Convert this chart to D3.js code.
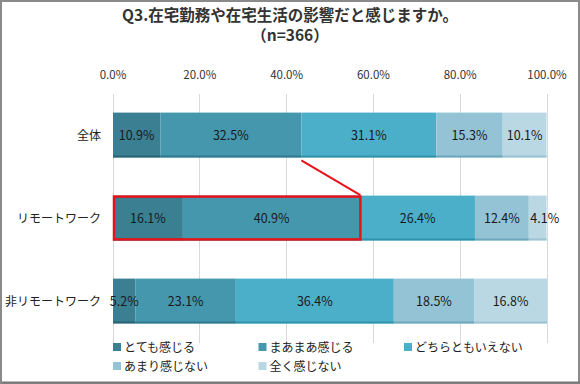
<!DOCTYPE html>
<html lang="ja">
<head>
<meta charset="UTF-8">
<title>Q3 在宅勤務</title>
<script src="https://cdnjs.cloudflare.com/ajax/libs/d3/7.8.5/d3.min.js"></script>
<style>
  body { margin: 0; background: #fff; }
  svg { display: block; font-family: "Noto Sans CJK JP", "Noto Sans", sans-serif; }
  .tick-label { font-size: 11.5px; fill: #333; }
  .cat-label { font-size: 12px; fill: #222; }
  .val-label { font-size: 12.5px; fill: #1a1a1a; }
  .legend-text { font-size: 12px; fill: #222; }
  .title { font-size: 15.5px; font-weight: bold; fill: #333; }
</style>
</head>
<body>
<div id="chart"></div>
<script>
// data
const categories = ["全体", "リモートワーク", "非リモートワーク"];
const seriesNames = ["とても感じる", "まあまあ感じる", "どちらともいえない", "あまり感じない", "全く感じない"];
const overall = [10.9, 32.5, 31.1, 15.3, 10.1];
const remote = [16.1, 40.9, 26.4, 12.4, 4.1];
const nonRemote = [5.2, 23.1, 36.4, 18.5, 16.8];
const ticks = [0, 20, 40, 60, 80, 100];
const colors = ["#3b7f92", "#4597ad", "#4cafc9", "#93c3d5", "#bad8e4"];
const edgeColors = ["#2b6474", "#2f7a8f", "#2f93ae", "#6ea8bd", "#9cc3d3"];

const rows = [overall, remote, nonRemote];

const W = 580, H = 384;
const svg = d3.select("#chart").append("svg")
  .attr("width", W).attr("height", H);

// frame
svg.append("rect")
  .attr("x", 1).attr("y", 1).attr("width", W - 2).attr("height", H - 2)
  .attr("fill", "#fff").attr("stroke", "#8a8a8a").attr("stroke-width", 2);
svg.append("line").attr("x1", 2).attr("x2", W).attr("y1", H - 1.5).attr("y2", H - 1.5)
  .attr("stroke", "#777").attr("stroke-width", 2);

// title
svg.append("text").attr("class", "title")
  .attr("x", 290).attr("y", 21).attr("text-anchor", "middle")
  .text("Q3.在宅勤務や在宅生活の影響だと感じますか。");
svg.append("text").attr("class", "title")
  .attr("x", 290).attr("y", 41).attr("text-anchor", "middle")
  .text("（n=366）");

const x = d3.scaleLinear().domain([0, 100]).range([113, 547]);
const y = d3.scaleBand().domain(categories).range([93.5, 342.5]).paddingInner(0.46).paddingOuter(0.23);

// gridlines
svg.append("g").selectAll("line").data(ticks).join("line")
  .attr("x1", d => x(d)).attr("x2", d => x(d))
  .attr("y1", 93.5).attr("y2", 342.5)
  .attr("stroke", "#d9d9d9").attr("stroke-width", 1)
  .attr("shape-rendering", "crispEdges");

// top axis labels
svg.append("g").selectAll("text").data(ticks).join("text")
  .attr("class", "tick-label")
  .attr("x", d => x(d)).attr("y", 79).attr("text-anchor", "middle")
  .text(d => d.toFixed(1) + "%");

// bars
rows.forEach((vals, ri) => {
  const cat = categories[ri];
  let acc = 0;
  const segs = vals.map((v, i) => {
    const s = { v, i, x0: acc, x1: acc + v };
    acc += v;
    return s;
  });
  const g = svg.append("g");
  g.selectAll("rect").data(segs).join("rect")
    .attr("x", d => x(d.x0)).attr("width", d => x(d.x1) - x(d.x0))
    .attr("y", y(cat)).attr("height", y.bandwidth())
    .attr("fill", d => colors[d.i]);
  g.selectAll("line").data(segs).join("line")
    .attr("x1", d => x(d.x0)).attr("x2", d => x(d.x1))
    .attr("y1", y(cat) + y.bandwidth() - 1).attr("y2", y(cat) + y.bandwidth() - 1)
    .attr("stroke", d => edgeColors[d.i]).attr("stroke-width", 2);
  g.selectAll("text").data(segs).join("text")
    .attr("class", "val-label")
    .attr("x", d => {
      const c = x((d.x0 + d.x1) / 2);
      return (d.x1 - d.x0) < 5 ? Math.max(c, x(d.x0) + 16) : c;
    })
    .attr("y", y(cat) + y.bandwidth() / 2 + 4.5)
    .attr("text-anchor", "middle")
    .text(d => d.v.toFixed(1) + "%");

  svg.append("text").attr("class", "cat-label")
    .attr("x", 101).attr("y", y(cat) + y.bandwidth() / 2 + 4.5)
    .attr("text-anchor", "end")
    .text(cat);
});

// highlight box around top two segments of remote row
const hiEnd = remote[0] + remote[1];
const overallEnd = overall[0] + overall[1];
svg.append("rect")
  .attr("x", x(0) + 1).attr("y", y(categories[1]) + 1)
  .attr("width", x(hiEnd) - x(0) - 1).attr("height", y.bandwidth() - 2)
  .attr("fill", "none").attr("stroke", "#e8131a").attr("stroke-width", 2.5);
svg.append("line")
  .attr("x1", x(overallEnd)).attr("y1", y(categories[0]) + y.bandwidth() + 3)
  .attr("x2", x(hiEnd)).attr("y2", y(categories[1]) - 0.5)
  .attr("stroke", "#e8131a").attr("stroke-width", 2);

// legend
const legend = svg.append("g");
const items = legend.selectAll("g").data(seriesNames).join("g")
  .attr("transform", (d, i) => `translate(${113 + (i % 3) * 145.5},${i < 3 ? 347 : 366})`);
items.append("rect")
  .attr("x", 0).attr("y", -4).attr("width", 8).attr("height", 8)
  .attr("fill", (d, i) => colors[i]);
items.append("text").attr("class", "legend-text")
  .attr("x", 11).attr("y", 4.5)
  .text(d => d);
</script>
</body>
</html>
